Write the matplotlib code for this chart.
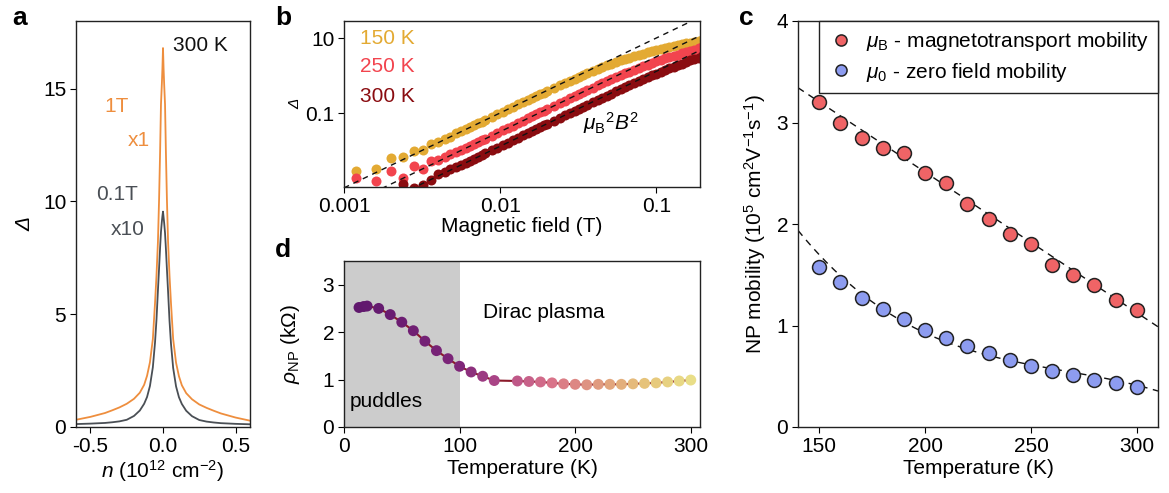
import numpy as np
import matplotlib
matplotlib.use("Agg")
import matplotlib.pyplot as plt
from matplotlib.colors import LinearSegmentedColormap, Normalize
from matplotlib.ticker import FixedLocator, NullLocator, FixedFormatter

plt.rcParams['font.family'] = ['Liberation Sans', 'DejaVu Sans']
plt.rcParams['mathtext.fontset'] = 'custom'
plt.rcParams['mathtext.rm'] = 'Liberation Sans'
plt.rcParams['mathtext.it'] = 'Liberation Sans:italic'
plt.rcParams['mathtext.bf'] = 'Liberation Sans:bold'
plt.rcParams['axes.unicode_minus'] = False
plt.rcParams['font.size'] = 15
plt.rcParams['axes.linewidth'] = 1.0
plt.rcParams['axes.edgecolor'] = '#222222'
plt.rcParams['xtick.direction'] = 'out'
plt.rcParams['ytick.direction'] = 'out'
plt.rcParams['xtick.major.size'] = 4
plt.rcParams['ytick.major.size'] = 4
plt.rcParams['xtick.major.pad'] = 3
plt.rcParams['ytick.major.pad'] = 3

# ---------------- Panel a data ----------------
n_a = [-0.60, -0.50, -0.40, -0.35, -0.30, -0.25, -0.20, -0.16, -0.13, -0.11, -0.09, -0.07,
       -0.055, -0.045, -0.035, -0.027, -0.02, -0.014, -0.008, -0.004, 0.0, 0.004, 0.008,
       0.014, 0.02, 0.027, 0.035, 0.045, 0.055, 0.07, 0.09, 0.11, 0.13, 0.16, 0.20, 0.25,
       0.30, 0.35, 0.40, 0.50, 0.60]
delta_1T = [0.32, 0.45, 0.62, 0.74, 0.87, 1.03, 1.25, 1.52, 1.87, 2.27, 2.87, 3.9,
            5.5, 6.7, 8.2, 10.1, 12.2, 14.3, 15.2, 15.9, 16.8, 15.9, 15.2,
            14.3, 12.2, 10.1, 8.2, 6.7, 5.5, 3.9, 2.85, 2.25, 1.85, 1.5, 1.23, 1.0,
            0.85, 0.72, 0.6, 0.42, 0.28]
delta_01T = [0.13, 0.15, 0.18, 0.21, 0.25, 0.32, 0.49, 0.73, 1.03, 1.33, 1.82, 2.65,
             3.75, 4.75, 6.05, 7.05, 7.95, 8.65, 9.1, 9.35, 9.55, 9.3, 9.05,
             8.6, 7.9, 7.0, 6.0, 4.7, 3.7, 2.62, 1.8, 1.32, 1.02, 0.72, 0.48, 0.31,
             0.24, 0.2, 0.17, 0.14, 0.12]

# ---------------- Panel b data ----------------
B_b = [0.0012, 0.0016, 0.0020, 0.0024, 0.0028, 0.0032, 0.0036, 0.0040, 0.0044, 0.0048,
       0.0052, 0.0056, 0.0060, 0.0064, 0.0068, 0.0072, 0.0076, 0.0080, 0.0088, 0.0096,
       0.0104, 0.0112, 0.0120, 0.013, 0.014, 0.015, 0.016, 0.017, 0.018, 0.019,
       0.020, 0.022, 0.024, 0.026, 0.028, 0.030, 0.032, 0.034, 0.036, 0.039,
       0.042, 0.045, 0.048, 0.051, 0.055, 0.059, 0.063, 0.067, 0.072, 0.077,
       0.082, 0.088, 0.094, 0.100, 0.107, 0.114, 0.121, 0.129, 0.137, 0.146,
       0.155, 0.165, 0.175, 0.186, 0.197]
delta_150K = [0.0029, 0.0033, 0.0063, 0.0067, 0.0101, 0.0105, 0.0149, 0.0175, 0.0205, 0.024,
              0.029, 0.033, 0.038, 0.043, 0.049, 0.054, 0.060, 0.066, 0.080, 0.095,
              0.111, 0.128, 0.147, 0.172, 0.199, 0.228, 0.259, 0.290, 0.323, 0.357,
              0.40, 0.48, 0.56, 0.65, 0.74, 0.84, 0.94, 1.05, 1.16, 1.34,
              1.52, 1.71, 1.90, 2.08, 2.33, 2.58, 2.83, 3.07, 3.36, 3.65,
              3.93, 4.25, 4.56, 4.86, 5.20, 5.53, 5.85, 6.20, 6.54, 6.92,
              7.28, 7.67, 8.05, 8.45, 8.85]
delta_250K = [0.0019, 0.0016, 0.0028, 0.0019, 0.0040, 0.0033, 0.0053, 0.0056, 0.0070, 0.0080,
              0.0092, 0.0105, 0.0120, 0.0135, 0.0152, 0.0170, 0.0189, 0.0209, 0.0253, 0.0300,
              0.0351, 0.0407, 0.0467, 0.0548, 0.0635, 0.0729, 0.0829, 0.0936, 0.105, 0.117,
              0.129, 0.156, 0.186, 0.218, 0.252, 0.289, 0.328, 0.369, 0.412, 0.482,
              0.556, 0.634, 0.715, 0.80, 0.92, 1.04, 1.16, 1.29, 1.45, 1.62,
              1.79, 2.0, 2.21, 2.42, 2.66, 2.90, 3.14, 3.42, 3.70, 4.01,
              4.32, 4.66, 5.00, 5.37, 5.74]
delta_300K = [np.nan, np.nan, np.nan, 0.0013, 0.0010, 0.0012, 0.0017, 0.0024, 0.0027, 0.0032,
              0.0037, 0.0042, 0.0048, 0.0055, 0.0062, 0.0069, 0.0077, 0.0085, 0.0103, 0.0122,
              0.0143, 0.0166, 0.0190, 0.0224, 0.0259, 0.0298, 0.0339, 0.0382, 0.0429, 0.0478,
              0.0529, 0.064, 0.076, 0.089, 0.103, 0.118, 0.134, 0.151, 0.169, 0.198,
              0.229, 0.262, 0.297, 0.333, 0.385, 0.44, 0.50, 0.56, 0.64, 0.72,
              0.81, 0.92, 1.03, 1.15, 1.29, 1.43, 1.58, 1.75, 1.93, 2.13,
              2.34, 2.57, 2.81, 3.07, 3.35]
temps_b = [150, 250, 300]

# ---------------- Panel c data ----------------
T_c = [150, 160, 170, 180, 190, 200, 210, 220, 230, 240, 250, 260, 270, 280, 290, 300]
mu_B = [3.20, 3.00, 2.85, 2.75, 2.70, 2.50, 2.40, 2.20, 2.05, 1.90, 1.80, 1.60, 1.50, 1.40, 1.25, 1.15]
mu_0 = [1.58, 1.43, 1.27, 1.16, 1.06, 0.96, 0.88, 0.80, 0.73, 0.66, 0.60, 0.55, 0.51, 0.46, 0.43, 0.39]
# fit curves (dashed)
T_fitB = [140, 200, 250, 310]
mu_fitB = [3.34, 2.52, 1.81, 0.99]
T_fit0 = [140, 147, 160, 170, 180, 200, 220, 240, 260, 280, 300, 310]
mu_fit0 = [1.97, 1.77, 1.45, 1.28, 1.15, 0.96, 0.80, 0.67, 0.555, 0.47, 0.40, 0.38]

# ---------------- Panel d data ----------------
T_d = [13, 17, 20, 30, 40, 50, 60, 70, 80, 90, 100, 110, 120, 130,
       150, 160, 170, 180, 190, 200, 210, 220, 230, 240, 250, 260, 270, 280, 290, 300]
rho_NP = [2.52, 2.54, 2.55, 2.50, 2.37, 2.21, 2.03, 1.81, 1.61, 1.44, 1.28, 1.16, 1.07, 0.98,
          0.97, 0.96, 0.95, 0.93, 0.91, 0.90, 0.89, 0.90, 0.90, 0.90, 0.91, 0.92, 0.93, 0.95, 0.97, 0.99]

# ---------------- Figure ----------------
W, H = 1169, 493
fig = plt.figure(figsize=(W / 100, H / 100), dpi=100)

def box(l, r, t, b):
    return [l / W, (H - b) / H, (r - l) / W, (b - t) / H]

ax_a = fig.add_axes(box(76, 250, 21, 427))
ax_b = fig.add_axes(box(344, 700, 21, 187))
ax_d = fig.add_axes(box(344, 700, 261, 427))
ax_c = fig.add_axes(box(798, 1158, 21, 427))

orange = '#EE8E3E'
gray = '#4A4F55'

# ---- a ----
ax_a.plot(n_a, delta_1T, color=orange, lw=1.3)
ax_a.plot(n_a, delta_01T, color=gray, lw=1.3)
ax_a.set_xlim(-0.6, 0.6)
ax_a.set_ylim(0, 18)
ax_a.set_xticks([-0.5, 0.0, 0.5])
ax_a.set_xticklabels(['-0.5', '0.0', '0.5'])
ax_a.set_yticks([0, 5, 10, 15])
ax_a.set_xlabel(r'$n$ (10$^{12}$ cm$^{-2}$)', labelpad=2)
ax_a.set_ylabel('Δ', style='italic', labelpad=6)
ax_a.text(0.07, 16.9, '300 K', color='#111111', ha='left', va='center')
ax_a.text(-0.32, 14.2, '1T', color=orange, ha='center', va='center')
ax_a.text(-0.17, 12.7, 'x1', color=orange, ha='center', va='center')
ax_a.text(-0.315, 10.3, '0.1T', color=gray, ha='center', va='center')
ax_a.text(-0.24, 8.74, 'x10', color=gray, ha='center', va='center')

# ---- b ----
cols_b = ['#E3AA33', '#F2444E', '#8A0C10']
for d, c in zip([delta_150K, delta_250K, delta_300K], cols_b):
    ax_b.plot(B_b, d, 'o', color=c, ms=7.2, mec='none')
Bline = np.logspace(-3, np.log10(0.2), 200)
for T in temps_b:
    mu = mu_B[T_c.index(T)] * 10.0  # 10^5 cm^2/Vs -> m^2/Vs (1/T)
    ax_b.plot(Bline, (mu * Bline) ** 2, color='#111111', lw=1.0, dashes=(4, 3.5))
ax_b.set_xscale('log')
ax_b.set_yscale('log')
ax_b.set_xlim(0.001, 0.19)
ax_b.set_ylim(0.00108, 29)
ax_b.xaxis.set_major_locator(FixedLocator([0.001, 0.01, 0.1]))
ax_b.xaxis.set_major_formatter(FixedFormatter(['0.001', '0.01', '0.1']))
ax_b.xaxis.set_minor_locator(NullLocator())
ax_b.yaxis.set_major_locator(FixedLocator([0.1, 10]))
ax_b.yaxis.set_major_formatter(FixedFormatter(['0.1', '10']))
ax_b.yaxis.set_minor_locator(NullLocator())
ax_b.set_xlabel('Magnetic field (T)', labelpad=1)
ax_b.set_ylabel('Δ', style='italic', fontsize=11, labelpad=2)
for lbl, c, y in zip(['150 K', '250 K', '300 K'], cols_b, [0.896, 0.725, 0.544]):
    ax_b.text(0.044, y, lbl, color=c, transform=ax_b.transAxes, ha='left', va='center')
ax_b.text(0.034, 0.055, r'$\mu_\mathrm{B}{}^2B^2$', ha='left', va='center')

# ---- d ----
cmap_d = LinearSegmentedColormap.from_list('d', [
    (0.0, '#5B166B'), (0.33, '#7E2579'), (0.45, '#B14A88'), (0.6, '#D97389'),
    (0.75, '#E1A07E'), (0.87, '#E6C47A'), (1.0, '#E9DE88')])
ax_d.axvspan(0, 100, color='#CCCCCC', lw=0, zorder=0)
ax_d.plot(T_d, rho_NP, color='#8B1A2A', lw=1.5, zorder=1)
ax_d.scatter(T_d, rho_NP, c=T_d, cmap=cmap_d, norm=Normalize(0, 300), s=62,
             edgecolors='none', zorder=2)
ax_d.set_xlim(0, 308)
ax_d.set_ylim(0, 3.5)
ax_d.set_xticks([0, 100, 200, 300])
ax_d.set_yticks([0, 1, 2, 3])
ax_d.set_xlabel('Temperature (K)', labelpad=2)
ax_d.set_ylabel(r'$\rho_\mathrm{NP}$ (k$\Omega$)', labelpad=15)
ax_d.text(120, 2.42, 'Dirac plasma', ha='left', va='center')
ax_d.text(5, 0.53, 'puddles', ha='left', va='center')

# ---- c ----
red_c = '#EF6466'
blue_c = '#8D9CF0'
Tf = np.linspace(140, 310, 200)
pB = np.polyfit(T_fitB, mu_fitB, 2)
p0 = np.polyfit(T_fit0, mu_fit0, 3)
ax_c.plot(Tf, np.polyval(pB, Tf), color='#111111', lw=1.0, dashes=(5, 4), zorder=1)
ax_c.plot(Tf, np.polyval(p0, Tf), color='#111111', lw=1.0, dashes=(5, 4), zorder=1)
ax_c.plot(T_c, mu_B, 'o', color=red_c, mec='#222222', mew=1.1, ms=10, zorder=3,
          label=r'$\mu_\mathrm{B}$ - magnetotransport mobility')
ax_c.plot(T_c, mu_0, 'o', color=blue_c, mec='#222222', mew=1.1, ms=10, zorder=3,
          label=r'$\mu_0$ - zero field mobility')
ax_c.set_xlim(140, 310)
ax_c.set_ylim(0, 4)
ax_c.set_xticks([150, 200, 250, 300])
ax_c.set_yticks([0, 1, 2, 3, 4])
ax_c.set_xlabel('Temperature (K)', labelpad=2)
ax_c.set_ylabel(r'NP mobility (10$^5$ cm$^2$V$^{-1}$s$^{-1}$)', labelpad=6)
leg = ax_c.legend(loc='upper right', borderaxespad=0, fancybox=False, framealpha=1,
                  edgecolor='#222222', handletextpad=0.6, borderpad=0.45,
                  labelspacing=0.35, handlelength=1.2, fontsize=15, markerscale=0.8)
leg.get_frame().set_linewidth(1.0)

# panel labels
for lbl, x, y in [('a', 20, 18), ('b', 283, 18), ('c', 746, 18), ('d', 283, 250)]:
    fig.text(x / W, 1 - y / H, lbl, fontsize=19, fontweight='bold', ha='center', va='center')

fig.savefig('out.png', dpi=100)
